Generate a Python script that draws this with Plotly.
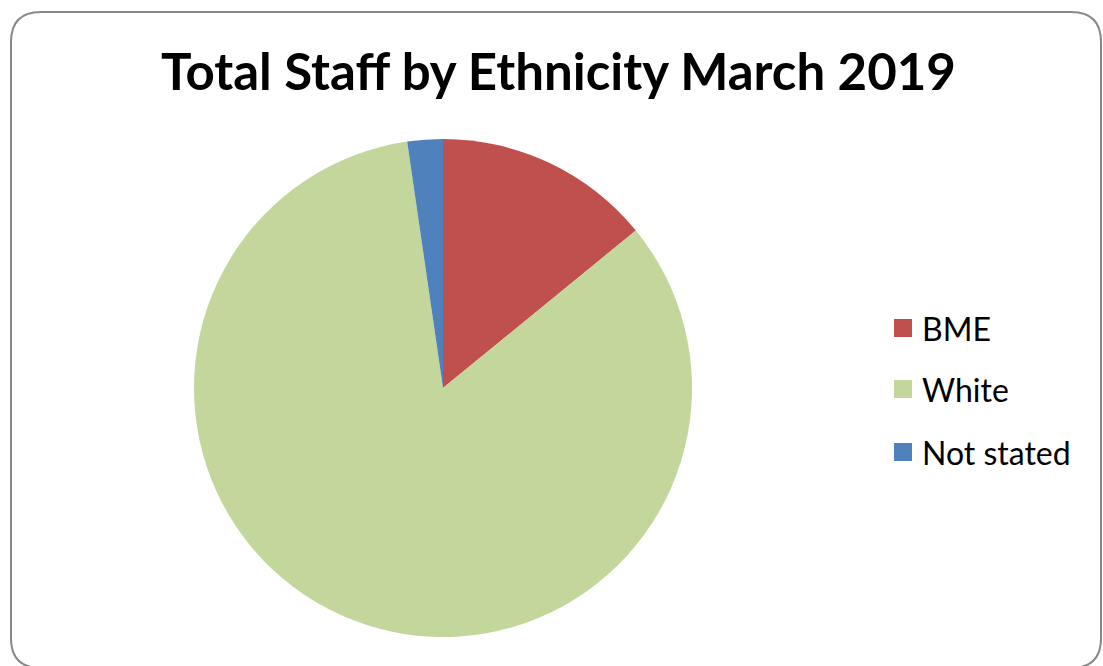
import plotly.graph_objects as go

W, H = 1103, 666

categories = ["BME", "White", "Not stated"]
values = [14.1, 83.6, 2.3]
colors = ["#C0504D", "#C3D69B", "#4F81BD"]
title_text = "Total Staff by Ethnicity March 2019"

FONT = "Lato"

def px(x):
    return x / W

def py(y):
    return 1 - y / H

fig = go.Figure()
fig.add_trace(go.Pie(
    labels=categories,
    values=values,
    marker=dict(colors=colors, line=dict(width=0)),
    sort=False,
    direction="clockwise",
    rotation=0,
    textinfo="none",
    hoverinfo="label+percent",
    showlegend=False,
    domain=dict(x=[px(194), px(692)], y=[py(637), py(139)]),
))

# Rounded frame
x0, y0, x1, y1, r = 11, 12, 1101, 668, 30
path = (
    f"M {px(x0+r)},{py(y0)} L {px(x1-r)},{py(y0)} "
    f"Q {px(x1)},{py(y0)} {px(x1)},{py(y0+r)} "
    f"L {px(x1)},{py(y1-r)} Q {px(x1)},{py(y1)} {px(x1-r)},{py(y1)} "
    f"L {px(x0+r)},{py(y1)} Q {px(x0)},{py(y1)} {px(x0)},{py(y1-r)} "
    f"L {px(x0)},{py(y0+r)} Q {px(x0)},{py(y0)} {px(x0+r)},{py(y0)} Z"
)
shapes = [dict(type="path", path=path, xref="paper", yref="paper",
               line=dict(color="#888888", width=2), fillcolor="rgba(0,0,0,0)")]

# Manual legend
annotations = []
leg_y = [328, 389, 452]
for cat, col, yy in zip(categories, colors, leg_y):
    shapes.append(dict(type="rect", xref="paper", yref="paper",
                       x0=px(894), x1=px(912), y0=py(yy + 9), y1=py(yy - 9),
                       fillcolor=col, line=dict(width=0)))
    annotations.append(dict(text=cat, xref="paper", yref="paper",
                            x=px(920), y=py(yy), xanchor="left", yanchor="middle",
                            showarrow=False, font=dict(family=FONT, size=32, color="#000000")))

annotations.append(dict(text=f"<b>{title_text}</b>", xref="paper", yref="paper",
                        x=px(558), y=py(71), xanchor="center", yanchor="middle",
                        showarrow=False, font=dict(family=FONT, size=51, color="#000000")))

fig.update_layout(
    width=W, height=H,
    margin=dict(l=0, r=0, t=0, b=0),
    paper_bgcolor="white",
    plot_bgcolor="white",
    shapes=shapes,
    annotations=annotations,
)

fig.write_html("out.html")
